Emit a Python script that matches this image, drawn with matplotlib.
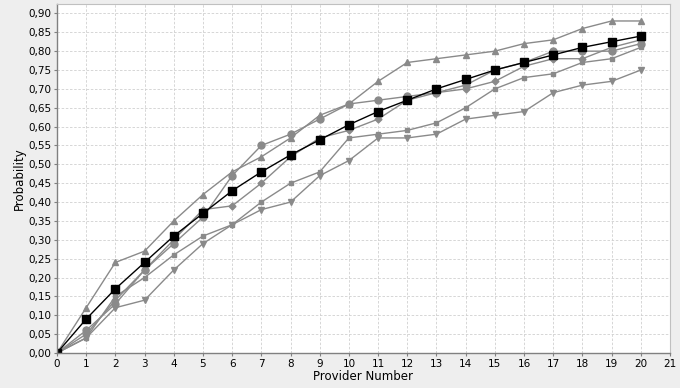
import matplotlib.pyplot as plt
from matplotlib.ticker import FuncFormatter, MultipleLocator

providers = list(range(0, 21))

mean_prob = [0.00, 0.09, 0.17, 0.24, 0.31, 0.37, 0.43, 0.48, 0.525, 0.565, 0.605,
             0.64, 0.67, 0.70, 0.725, 0.75, 0.77, 0.79, 0.81, 0.825, 0.84]
tri_up = [0.00, 0.12, 0.24, 0.27, 0.35, 0.42, 0.48, 0.52, 0.57, 0.63, 0.66,
          0.72, 0.77, 0.78, 0.79, 0.80, 0.82, 0.83, 0.86, 0.88, 0.88]
circles = [0.00, 0.06, 0.13, 0.22, 0.29, 0.36, 0.47, 0.55, 0.58, 0.62, 0.66,
           0.67, 0.68, 0.69, 0.71, 0.75, 0.77, 0.80, 0.80, 0.80, 0.82]
diamonds = [0.00, 0.05, 0.14, 0.22, 0.30, 0.38, 0.39, 0.45, 0.52, 0.57, 0.59,
            0.62, 0.67, 0.69, 0.70, 0.72, 0.76, 0.78, 0.78, 0.81, 0.83]
rects = [0.00, 0.04, 0.15, 0.20, 0.26, 0.31, 0.34, 0.40, 0.45, 0.48, 0.57,
         0.58, 0.59, 0.61, 0.65, 0.70, 0.73, 0.74, 0.77, 0.78, 0.81]
tri_down = [0.00, 0.04, 0.12, 0.14, 0.22, 0.29, 0.34, 0.38, 0.40, 0.47, 0.51,
            0.57, 0.57, 0.58, 0.62, 0.63, 0.64, 0.69, 0.71, 0.72, 0.75]

gray = '#8a8a8a'

fig = plt.figure(figsize=(6.8, 3.88), dpi=100, facecolor='#eeeeee')
ax = fig.add_axes([0.0838, 0.0902, 0.9015, 0.8995])
ax.set_facecolor('white')

# gray series first, mean on top
ax.plot(providers, tri_up, '-^', color=gray, lw=1, ms=5, mec=gray)
ax.plot(providers, circles, '-o', color=gray, lw=1, ms=5, mec=gray)
ax.plot(providers, diamonds, '-D', color=gray, lw=1, ms=3.5, mec=gray)
ax.plot(providers, rects, '-s', color=gray, lw=1, ms=3.5, mec=gray)
ax.plot(providers, tri_down, '-v', color=gray, lw=1, ms=5, mec=gray)
ax.plot(providers, mean_prob, '-s', color='black', lw=1, ms=5.5)

ax.set_xlim(0, 21)
ax.set_ylim(0, 0.925)
ax.xaxis.set_major_locator(MultipleLocator(1))
ax.yaxis.set_major_locator(MultipleLocator(0.05))
ax.yaxis.set_major_formatter(FuncFormatter(lambda v, p: f'{v:.2f}'.replace('.', ',')))

ax.grid(True, color='#d0d0d0', linestyle=(0, (3, 2)), linewidth=0.6)
ax.set_axisbelow(True)

for side in ['top', 'right']:
    ax.spines[side].set_color('#c0c0c0')
for side in ['left', 'bottom']:
    ax.spines[side].set_color('#808080')
    ax.spines[side].set_linewidth(1)

ax.tick_params(labelsize=7.5, length=2, color='#808080', pad=2)
ax.set_xlabel('Provider Number', fontsize=8.5, labelpad=1)
ax.set_ylabel('Probability', fontsize=8.5, labelpad=2)

fig.savefig('out.png', dpi=100, facecolor=fig.get_facecolor())
